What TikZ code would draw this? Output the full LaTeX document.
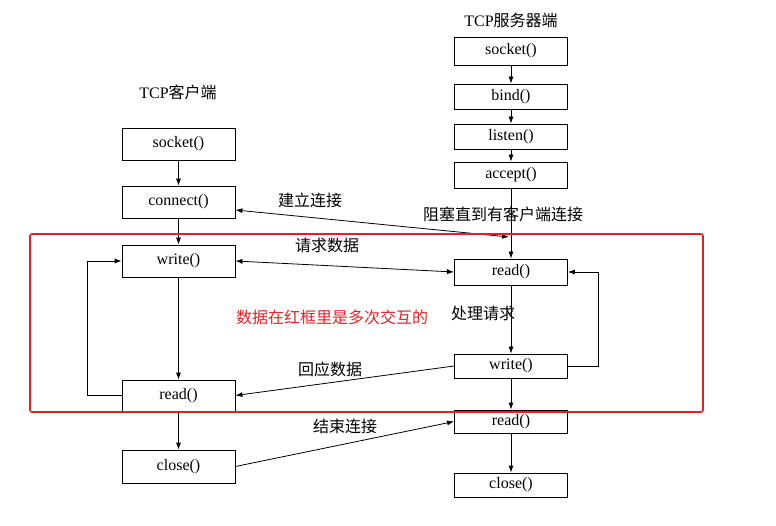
\documentclass[tikz,border=0pt]{standalone}
\usepackage{fontspec}
\setmainfont{Liberation Serif}
\newfontfamily\cjk{Noto Sans CJK SC}
\usepackage{tikz}
\usetikzlibrary{positioning}
\usetikzlibrary{arrows.meta}
\definecolor{framered}{RGB}{228,32,36}
\tikzset{
  box/.style={draw, line width=0.8pt, minimum width=113pt, inner sep=0pt, font=\fontsize{16}{18}\selectfont},
  lbl/.style={font=\cjk\fontsize{16}{18}\selectfont, inner sep=0pt},
  link/.style={line width=0.8pt, -{Latex[length=7pt,width=5pt]}}
}

\begin{document}
\begin{tikzpicture}[x=1pt,y=-1pt]
\useasboundingbox (0,0) rectangle (776,526);
% client side
\node[lbl] (ctitle) at (178,92) {{\fontsize{16}{18}\rmfamily TCP}客户端};
\node[box, minimum height=32pt] (csocket) at (178.5,144) {socket()};
\node[box, minimum height=32pt] (cconnect) at (178.5,202) {connect()};
\node[box, minimum height=32pt] (cwrite) at (178.5,261) {write()};
\node[box, minimum height=31pt] (cread) at (178.5,395.5) {read()};
\node[box, minimum height=33pt] (cclose) at (178.5,466.5) {close()};
% server side
\node[lbl] (stitle) at (511,20) {{\fontsize{16}{18}\rmfamily TCP}服务器端};
\node[box, minimum height=28pt] (ssocket) at (511,51) {socket()};
\node[box, minimum height=25pt] (sbind) at (511,96.5) {bind()};
\node[box, minimum height=25pt] (slisten) at (511,136.5) {listen()};
\node[box, minimum height=26pt] (saccept) at (511,175) {accept()};
\node[box, minimum height=26pt] (sread) at (511,272) {read()};
\node[box, minimum height=24pt] (swrite) at (511,366) {write()};
\node[box, minimum height=23pt] (sreadend) at (511,421.5) {read()};
\node[box, minimum height=24pt] (sclose) at (511,485) {close()};
\coordinate (sblock) at (509,237);
% labels
\node[lbl] (lconnect) at (310,200) {建立连接};
\node[lbl] (lblock) at (503,214) {阻塞直到有客户端连接};
\node[lbl] (lrequest) at (327,245) {请求数据};
\node[lbl] (lprocess) at (483,313) {处理请求};
\node[lbl] (lreply) at (330,369) {回应数据};
\node[lbl] (lend) at (345,426) {结束连接};
\node[lbl, text=framered] (lnote) at (332,317) {数据在红框里是多次交互的};
% client flow
\draw[link] (csocket) -- (cconnect);
\draw[link] (cconnect) -- (cwrite);
\draw[link] (cwrite) -- (cread);
\draw[link] (cread) -- (cclose);
\draw[link] (cread.west) -- ++(-34,0) |- (cwrite.west);
% server flow
\draw[link] (ssocket) -- (sbind);
\draw[link] (sbind) -- (slisten);
\draw[link] (slisten) -- (saccept);
\draw[link] (saccept) -- (sread);
\draw[link] (sread) -- (swrite);
\draw[link] (swrite) -- (sreadend);
\draw[link] (sreadend) -- (sclose);
\draw[link] (swrite.east) -- ++(30,0) |- (sread.east);
% messages
\draw[link, {Latex[length=7pt,width=5pt]}-{Latex[length=7pt,width=5pt]}] ([yshift=-8pt]cconnect.east) -- (sblock);
\draw[link, {Latex[length=7pt,width=5pt]}-{Latex[length=7pt,width=5pt]}] (cwrite.east) -- (sread.west);
\draw[link] (swrite.west) -- (cread.east);
\draw[link] (cclose.east) -- (sreadend.west);
% red frame
\draw[framered, line width=1.6pt, rounded corners=2pt] (30,234) rectangle (703,412);
\end{tikzpicture}
\end{document}
